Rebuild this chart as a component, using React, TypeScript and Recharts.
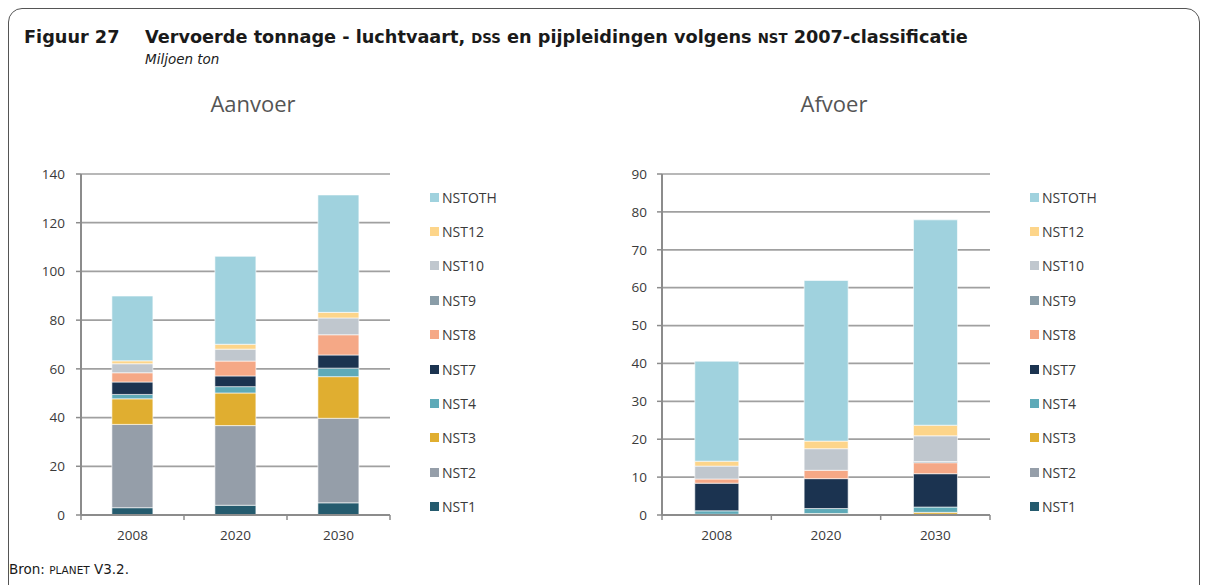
import React from "react";
import { BarChart, Bar, XAxis, YAxis, CartesianGrid } from "recharts";

const years = ["2008", "2020", "2030"];
const seriesKeys = ["NST1", "NST2", "NST3", "NST4", "NST7", "NST8", "NST9", "NST10", "NST12", "NSTOTH"];
const seriesColors = ["#255b6e", "#959ea9", "#e0ae30", "#5eaab8", "#1b3350", "#f5a886", "#8a9da8", "#c0c7ce", "#fdd58a", "#a0d2de"];

// values per year, in the order of seriesKeys
const aanvoer2008 = [3.0, 34.2, 10.5, 1.8, 5.1, 3.8, 0, 3.7, 1.2, 26.6];
const aanvoer2020 = [4.0, 32.7, 13.4, 2.6, 4.4, 6.1, 0, 4.9, 2.0, 36.1];
const aanvoer2030 = [5.0, 34.7, 17.1, 3.5, 5.4, 8.3, 0, 6.9, 2.3, 48.2];

const afvoer2008 = [0.2, 0, 0, 0.9, 7.3, 1.1, 0, 3.4, 1.3, 26.4];
const afvoer2020 = [0.1, 0, 0.3, 1.3, 7.9, 2.2, 0, 5.7, 2.0, 42.4];
const afvoer2030 = [0.2, 0, 0.5, 1.4, 8.8, 2.9, 0.3, 6.8, 2.8, 54.2];

const aanvoerTicks = [0, 20, 40, 60, 80, 100, 120, 140];
const afvoerTicks = [0, 10, 20, 30, 40, 50, 60, 70, 80, 90];

function buildRows(rows: number[][]) {
  return years.map((year, i) => {
    const row: Record<string, string | number> = { year };
    seriesKeys.forEach((k, j) => {
      row[k] = rows[i][j];
    });
    return row;
  });
}

const aanvoerData = buildRows([aanvoer2008, aanvoer2020, aanvoer2030]);
const afvoerData = buildRows([afvoer2008, afvoer2020, afvoer2030]);

const font = "'Open Sans', sans-serif";
const titleFont = "'DejaVu Sans', sans-serif";
const textColor = "#3a3a3a";
const gridColor = "#a0a0a0";
const axisColor = "#8c8c8c";

function LegendBox({ left }: { left: number }) {
  const items = seriesKeys.map((k, i) => ({ k, c: seriesColors[i] })).reverse();
  return (
    <div style={{ position: "absolute", left, top: 180 }}>
      {items.map((it) => (
        <div key={it.k} style={{ height: 34.4, display: "flex", alignItems: "center", fontFamily: font, fontSize: 14, color: textColor }}>
          <span style={{ width: 9, height: 9, background: it.c, display: "inline-block", marginRight: 3 }} />
          {it.k}
        </div>
      ))}
    </div>
  );
}

// category tick: label at band centre, tick marks on the band edges
function YearTick(props: any) {
  const { x, y, payload, index, band } = props;
  const half = band / 2;
  return (
    <g>
      <line x1={x - half} x2={x - half} y1={y} y2={y + 5} stroke={axisColor} strokeWidth={1.5} />
      {index === years.length - 1 && <line x1={x + half} x2={x + half} y1={y} y2={y + 5} stroke={axisColor} strokeWidth={1.5} />}
      <text x={x} y={y + 15} dy="0.71em" textAnchor="middle" fill={textColor} fontSize={13.5} fontFamily={font}>
        {payload.value}
      </text>
    </g>
  );
}

interface ChartProps {
  data: Record<string, string | number>[];
  ticks: number[];
  plotLeft: number;
  plotRight: number;
  tickMargin: number;
}

function StackChart({ data, ticks, plotLeft, plotRight, tickMargin }: ChartProps) {
  const w = 604;
  const yAxisWidth = 60;
  const top = ticks[ticks.length - 1];
  const band = (plotRight - plotLeft) / years.length;
  return (
    <BarChart
      width={w}
      height={585}
      data={data}
      margin={{ top: 174, left: plotLeft - yAxisWidth, right: w - plotRight, bottom: 40 }}
      barCategoryGap="30%"
    >
      <CartesianGrid vertical={false} stroke={gridColor} strokeWidth={1.7} />
      <XAxis
        dataKey="year"
        height={30}
        axisLine={{ stroke: axisColor, strokeWidth: 2 }}
        tickLine={false}
        tickSize={0}
        tickMargin={0}
        interval={0}
        tick={(p: any) => <YearTick {...p} band={band} />}
      />
      <YAxis
        width={yAxisWidth}
        domain={[0, top]}
        ticks={ticks}
        interval={0}
        axisLine={{ stroke: axisColor, strokeWidth: 2 }}
        tickLine={{ stroke: axisColor, strokeWidth: 1.5 }}
        tickSize={5}
        tickMargin={tickMargin}
        tick={{ fill: textColor, fontSize: 13.5, fontFamily: font }}
      />
      {seriesKeys.map((k, i) => (
        <Bar key={k} dataKey={k} stackId="a" fill={seriesColors[i]} stroke="#ffffff" strokeWidth={0.6} isAnimationActive={false} />
      ))}
    </BarChart>
  );
}

export default function App() {
  const small = { fontSize: "0.75em" };
  return (
    <div style={{ position: "absolute", left: 0, top: 0, width: 1208, height: 585, overflow: "hidden", background: "#fff" }}>
      <div
        style={{
          position: "absolute",
          left: 8,
          top: 8,
          width: 1190,
          height: 640,
          border: "1px solid #555",
          borderRadius: 14,
        }}
      />
      <div style={{ position: "absolute", left: 24, top: 27, fontFamily: titleFont, fontWeight: "bold", fontSize: 17.7, color: "#1a1a1a", whiteSpace: "nowrap" }}>
        <span style={{ display: "inline-block", width: 121 }}>Figuur 27</span>
        Vervoerde tonnage - luchtvaart, <span style={small}>DSS</span> en pijpleidingen volgens <span style={small}>NST</span> 2007-classificatie
      </div>
      <div style={{ position: "absolute", left: 145, top: 51, fontFamily: titleFont, fontStyle: "italic", fontSize: 13.5, color: "#1a1a1a" }}>
        Miljoen ton
      </div>
      <div style={{ position: "absolute", left: 153, width: 200, top: 88, textAlign: "center", fontFamily: font, fontSize: 22, color: "#555555" }}>
        Aanvoer
      </div>
      <div style={{ position: "absolute", left: 734, width: 200, top: 88, textAlign: "center", fontFamily: font, fontSize: 22, color: "#555555" }}>
        Afvoer
      </div>
      <div style={{ position: "absolute", left: 0, top: 0 }}>
        <StackChart data={aanvoerData} ticks={aanvoerTicks} plotLeft={81} plotRight={390} tickMargin={11} />
      </div>
      <div style={{ position: "absolute", left: 604, top: 0 }}>
        <StackChart data={afvoerData} ticks={afvoerTicks} plotLeft={58} plotRight={386} tickMargin={10} />
      </div>
      <LegendBox left={430} />
      <LegendBox left={1030} />
      <div style={{ position: "absolute", left: 9, top: 561, fontFamily: titleFont, fontSize: 13.5, color: "#1a1a1a" }}>
        Bron: <span style={{ fontSize: 10.5 }}>PLANET</span> V3.2.
      </div>
    </div>
  );
}
